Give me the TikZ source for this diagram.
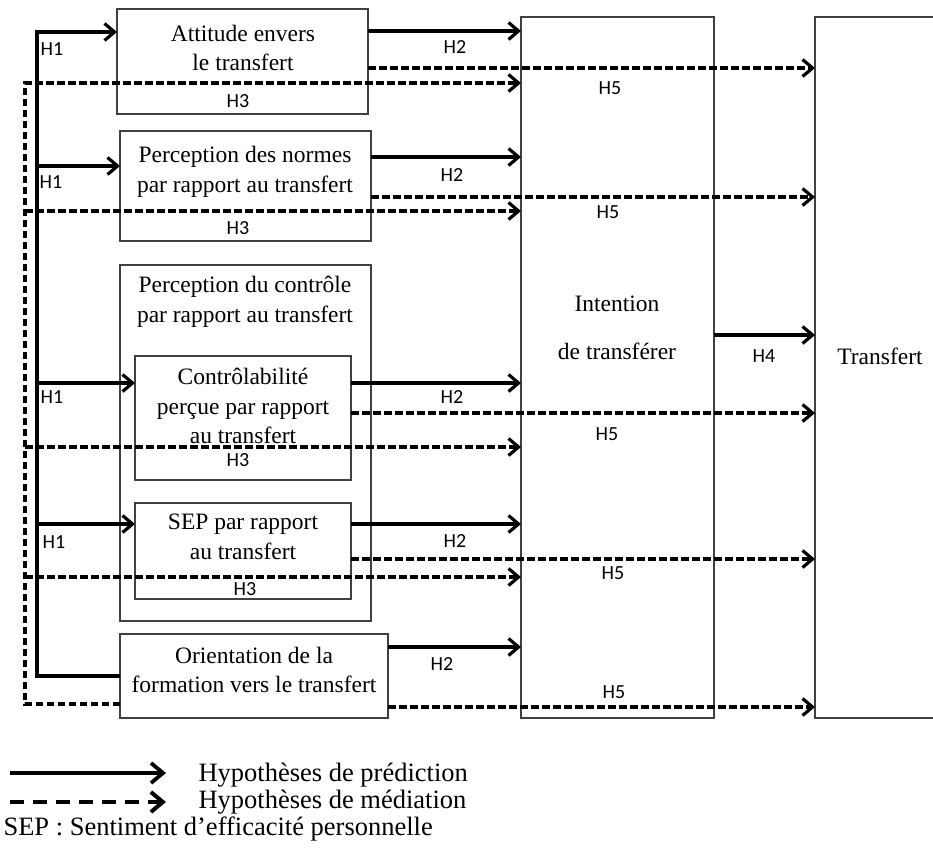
\documentclass[tikz,border=0pt]{standalone}
\usepackage{fontspec}
\setmainfont{Liberation Serif}
\newfontfamily\calibri{Carlito}
\usetikzlibrary{arrows.meta}
\tikzset{
  boite/.style={draw=black!75, line width=1.2pt, inner sep=0pt, outer sep=0pt},
  texte/.style={align=center, font=\fontsize{23.5}{29.5}\selectfont},
  hyp/.style={font=\calibri\fontsize{20}{22}\selectfont},
  pred/.style={line width=3.2pt},
  med/.style={line width=3.2pt, dash pattern=on 7.5pt off 3.5pt},
  >={Straight Barb[length=10pt,width=17pt]}
}
\begin{document}
\begin{tikzpicture}[x=1pt,y=-1pt]
    \useasboundingbox (0,0) rectangle (933,855);
    % boxes
    \node [boite, minimum width=251pt, minimum height=105pt] (att) at (242.5,61.5) {};
    \node [boite, minimum width=251pt, minimum height=110pt] (norm) at (245.5,186) {};
    \node [boite, minimum width=251pt, minimum height=356pt] (pctl) at (245.5,443) {};
    \node [boite, minimum width=216pt, minimum height=124pt] (ctl) at (243,418) {};
    \node [boite, minimum width=216pt, minimum height=96pt] (sep) at (243,551) {};
    \node [boite, minimum width=268pt, minimum height=84pt] (ori) at (254,676) {};
    \node [boite, minimum width=193pt, minimum height=701pt] (int) at (617.5,367.5) {};
    \node [boite, minimum width=128pt, minimum height=701pt] (tra) at (879,367.5) {};
    % texts
    \node [texte] (attT) at (243,48) {Attitude envers\\le transfert};
    \node [texte] (normT) at (245,172) {Perception des normes\\par rapport au transfert};
    \node [texte] (pctlT) at (245,302) {Perception du contrôle\\par rapport au transfert};
    \node [texte] (ctlT) at (243,406) {Contrôlabilité\\perçue par rapport\\au transfert};
    \node [texte] (sepT) at (243,537) {SEP par rapport\\au transfert};
    \node [texte] (oriT) at (254,670) {Orientation de la\\formation vers le transfert};
    \node [texte] (intT) at (617,328) {Intention\\[19pt]de transférer};
    \node [texte] (traT) at (880,356) {Transfert};
    % buses
    \coordinate (pb) at (37,676);
    \coordinate (mb) at (25,704);
    \draw [pred, ->] (ori.west) -- (pb) -- (pb |- 0,32) -- (att.west |- 0,32);
    \draw [pred, ->] (pb |- 0,166) -- (norm.west |- 0,166);
    \draw [pred, ->] (pb |- 0,383) -- (ctl.west |- 0,383);
    \draw [pred, ->] (pb |- 0,524) -- (sep.west |- 0,524);
    \draw [med, ->] (ori.west |- mb) -- (mb) -- (mb |- 0,83) -- (int.west |- 0,83);
    \draw [med, ->] (mb |- 0,211) -- (int.west |- 0,211);
    \draw [med, ->] (mb |- 0,447) -- (int.west |- 0,447);
    \draw [med, ->] (mb |- 0,577) -- (int.west |- 0,577);
    % H2
    \draw [pred, ->] (att.east |- 0,31) -- (int.west |- 0,31);
    \draw [pred, ->] (norm.east |- 0,157) -- (int.west |- 0,157);
    \draw [pred, ->] (ctl.east |- 0,383) -- (int.west |- 0,383);
    \draw [pred, ->] (sep.east |- 0,524) -- (int.west |- 0,524);
    \draw [pred, ->] (ori.east |- 0,647) -- (int.west |- 0,647);
    % H5
    \draw [med, ->] (att.east |- 0,68) -- (tra.west |- 0,68);
    \draw [med, ->] (norm.east |- 0,197) -- (tra.west |- 0,197);
    \draw [med, ->] (ctl.east |- 0,413) -- (tra.west |- 0,413);
    \draw [med, ->] (sep.east |- 0,559) -- (tra.west |- 0,559);
    \draw [med, ->] (ori.east |- 0,707) -- (tra.west |- 0,707);
    % H4
    \draw [pred, ->] (int.east |- 0,335) -- (tra.west |- 0,335);
    % labels
    \node [hyp] (h1a) at (52,49) {H1};
    \node [hyp] (h1b) at (51,182) {H1};
    \node [hyp] (h1c) at (52,397) {H1};
    \node [hyp] (h1d) at (54,542) {H1};
    \node [hyp] (h3a) at (238,101) {H3};
    \node [hyp] (h3b) at (238,228) {H3};
    \node [hyp] (h3c) at (238,460) {H3};
    \node [hyp] (h3d) at (245,589) {H3};
    \node [hyp] (h2a) at (455,47) {H2};
    \node [hyp] (h2b) at (452,175) {H2};
    \node [hyp] (h2c) at (452,397) {H2};
    \node [hyp] (h2d) at (455,541) {H2};
    \node [hyp] (h2e) at (442,664) {H2};
    \node [hyp] (h5a) at (610,88) {H5};
    \node [hyp] (h5b) at (608,212) {H5};
    \node [hyp] (h5c) at (607,434) {H5};
    \node [hyp] (h5d) at (613,573) {H5};
    \node [hyp] (h5e) at (614,692) {H5};
    \node [hyp] (h4) at (764,356) {H4};
    % legend
    \coordinate (lgA) at (10,773);
    \coordinate (lgB) at (10,802);
    \node [font=\fontsize{26.5}{30}\selectfont, anchor=west] (lgAT) at (195,775) {Hypothèses de prédiction};
    \node [font=\fontsize{26.5}{30}\selectfont, anchor=west] (lgBT) at (195,802) {Hypothèses de médiation};
    \node [font=\fontsize{26.5}{30}\selectfont, anchor=west] (lgC) at (0,829) {SEP : Sentiment d’efficacité personnelle};
    \draw [line width=3.8pt, -{Straight Barb[length=12pt,width=20pt]}] (lgA) -- ++(156,0);
    \draw [line width=4pt, dash pattern=on 14pt off 9pt, -{Straight Barb[length=12pt,width=20pt]}] (lgB) -- ++(156,0);
\end{tikzpicture}
\end{document}
